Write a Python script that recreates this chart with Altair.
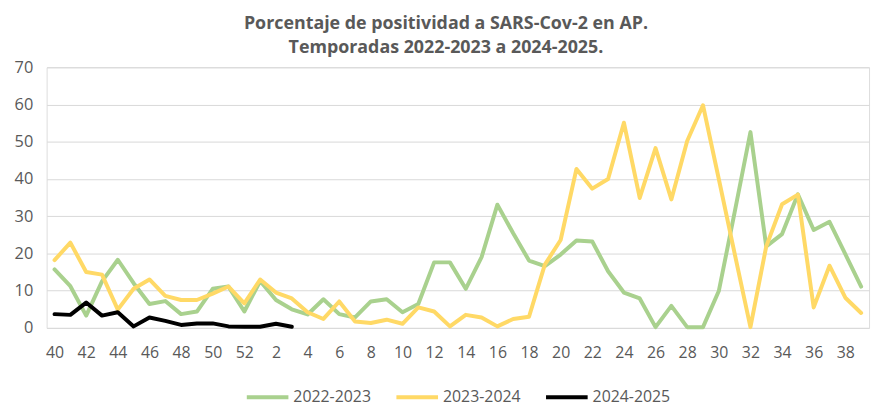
import altair as alt
import pandas as pd

weeks = [str(w) for w in list(range(40, 53)) + list(range(1, 40))]
tick_labels = [str(w) for w in list(range(40, 53, 2)) + list(range(2, 40, 2))]

s2022 = [15.7, 11.2, 3.3, 12.5, 18.3, 12.0, 6.4, 7.2, 3.7, 4.4, 10.5, 11.1, 4.4,
         12.6, 7.5, 5.0, 3.6, 7.7, 3.7, 2.8, 7.1, 7.7, 4.2, 6.4, 17.6, 17.6, 10.5,
         19.0, 33.1, 25.4, 18.1, 16.6, 19.7, 23.5, 23.2, 15.2, 9.5, 7.9, 0.2, 5.9,
         0.2, 0.2, 9.9, 31.0, 52.6, 21.9, 25.2, 35.9, 26.3, 28.5, 19.8, 11.1]
s2023 = [18.2, 22.9, 15.0, 14.3, 4.9, 10.5, 13.0, 8.6, 7.5, 7.5, 9.2, 11.1, 6.6,
         13.0, 9.5, 7.9, 4.2, 2.4, 7.1, 1.7, 1.3, 2.2, 1.1, 5.5, 4.4, 0.4, 3.5,
         2.8, 0.4, 2.4, 3.0, 17.0, 23.6, 42.7, 37.4, 40.0, 55.1, 34.9, 48.3, 34.5,
         50.2, 59.8, 40.0, 20.0, 0.2, 21.9, 33.2, 35.8, 5.5, 16.7, 8.1, 4.0]
s2024 = [3.7, 3.5, 6.8, 3.3, 4.2, 0.4, 2.8, 1.9, 0.8, 1.2, 1.2, 0.4, 0.3,
         0.3, 1.1, 0.3]

series_names = ["2022-2023", "2023-2024", "2024-2025"]
series_values = [s2022, s2023, s2024]
colors = ["#A9D18E", "#FFD966", "#000000"]

rows = []
for name, vals in zip(series_names, series_values):
    for i, v in enumerate(vals):
        rows.append({"semana": weeks[i], "valor": v, "temporada": name, "orden": i})
df = pd.DataFrame(rows)

gray = "#595959"
font = "Open Sans"

chart = alt.Chart(df).mark_line(strokeWidth=4, strokeCap="round", strokeJoin="round").encode(
    x=alt.X("semana:O", sort=weeks, title=None,
            scale=alt.Scale(type="point", padding=0.5),
            axis=alt.Axis(values=tick_labels, labelAngle=0, ticks=False, domain=False,
                          grid=False, labelFont=font, labelFontSize=16,
                          labelColor=gray, labelPadding=17)),
    y=alt.Y("valor:Q", title=None,
            scale=alt.Scale(domain=[0, 70], nice=False),
            axis=alt.Axis(values=[0, 10, 20, 30, 40, 50, 60, 70], ticks=False, domain=False,
                          gridColor="#D9D9D9", gridWidth=1, labelFont=font,
                          labelFontSize=16.5, labelColor=gray, labelPadding=14)),
    color=alt.Color("temporada:N", sort=series_names, title=None,
                    scale=alt.Scale(domain=series_names, range=colors),
                    legend=alt.Legend(orient="none", direction="horizontal",
                                      legendX=200, legendY=310,
                                      symbolType="stroke", symbolSize=1764,
                                      symbolStrokeWidth=4, labelFont=font,
                                      labelFontSize=16, labelColor=gray,
                                      labelOffset=3, columnPadding=17, padding=0)),
    order=alt.Order("orden:Q"),
).properties(
    width=830,
    height=263,
    title=alt.TitleParams(
        ["Porcentaje de positividad a SARS-Cov-2 en AP.",
         "Temporadas 2022-2023 a 2024-2025."],
        anchor="middle", font=font, fontSize=18, fontWeight="bold",
        color=gray, lineHeight=25, offset=2, dx=-12),
    autosize=alt.AutoSizeParams(type="none"),
    padding={"left": 39, "top": 58, "right": 5, "bottom": 78},
).configure_view(stroke=None).configure(background="white")

chart.save("out.html", embed_options={"renderer": "svg", "actions": False})
